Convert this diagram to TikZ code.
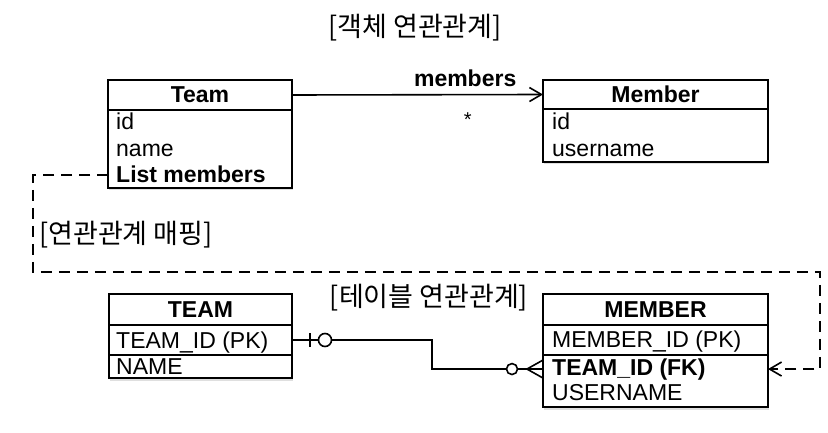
\documentclass[tikz,border=0pt]{standalone}
\usepackage{fontspec}
\setmainfont{Liberation Sans}
\newfontfamily\kr{Noto Sans CJK KR}
\usetikzlibrary{positioning,arrows.meta,shadows,calc}
\tikzset{
  box/.style={draw, line width=1.6pt, fill=white, inner sep=0pt, outer sep=0pt,
    drop shadow={shadow xshift=1pt, shadow yshift=-2.5pt, opacity=0.25}},
  hdr/.style={box, font=\bfseries\fontsize{23}{23}\selectfont},
  txt/.style={anchor=base west, inner sep=0pt, font=\fontsize{23}{23}\selectfont},
  btxt/.style={txt, font=\bfseries\fontsize{23}{23}\selectfont},
  kor/.style={inner sep=0pt, font=\kr\fontsize{27}{27}\selectfont},
  link/.style={line width=1.6pt, -{Straight Barb[length=12pt,width=14pt]}},
  mapping/.style={link, dash pattern=on 11pt off 7pt},
  erline/.style={line width=1.6pt},
}
\begin{document}
\begin{tikzpicture}[x=1pt,y=-1pt]
	\useasboundingbox (0,0) rectangle (828,433);
	% 객체 연관관계
	\node[kor] (objTitle) at (415,28) {[객체 연관관계]};
	\node[hdr, minimum width=184pt, minimum height=30pt] (team) at (200,95) {Team};
	\node[box, minimum width=184pt, minimum height=78pt, below=0pt of team] (teamBody) {};
	\node[txt] (tmId) at (116,130) {id};
	\node[txt] (tmName) at (116,157) {name};
	\node[btxt] (tmList) at (116,183) {List members};
	\node[hdr, minimum width=225pt, minimum height=29pt] (member) at (655.5,94.5) {Member};
	\node[box, minimum width=225pt, minimum height=53pt, below=0pt of member] (memberBody) {};
	\node[txt] (mbId) at (552,130) {id};
	\node[txt] (mbUser) at (552,157) {username};
	\draw[link] (team.east) -- (member.west)
		node[pos=0.69, above=4pt, font=\bfseries\fontsize{23}{23}\selectfont] (lblMembers) {members}
		node[pos=0.70, below=17pt, inner sep=0pt, font=\fontsize{20}{20}\selectfont] (lblMany) {*};
	% 연관관계 매핑
	\coordinate (mapL) at (33,272);
	\coordinate (mapR) at (820,272);
	\node[kor, anchor=west] (mapLabel) at (39,235) {[연관관계 매핑]};
	% 테이블 연관관계
	\node[kor] (tblTitle) at (429,298) {[테이블 연관관계]};
	\node[hdr, minimum width=183pt, minimum height=31pt] (tTeam) at (200.5,309.5) {TEAM};
	\node[box, minimum width=183pt, minimum height=30pt, below=0pt of tTeam] (tTeamPk) {};
	\node[box, minimum width=183pt, minimum height=23pt, below=0pt of tTeamPk] (tTeamName) {};
	\node[txt] (ttId) at (116,348) {TEAM\_ID (PK)};
	\node[txt] (ttName) at (116,374.5) {NAME};
	\node[hdr, minimum width=225pt, minimum height=31pt] (tMember) at (655.5,309.5) {MEMBER};
	\node[box, minimum width=225pt, minimum height=30pt, below=0pt of tMember] (tMemberPk) {};
	\node[box, minimum width=225pt, minimum height=52pt, below=0pt of tMemberPk] (tMemberBody) {};
	\node[txt] (tmPk) at (552,347) {MEMBER\_ID (PK)};
	\node[btxt] (tmFk) at (552,375) {TEAM\_ID (FK)};
	\node[txt] (tmUser) at (552,400) {USERNAME};
	%mapping
	\draw[mapping] (teamBody.west |- tmList.center) -| (mapL) -- (mapR) |- (tMemberBody.east |- tmFk.center);
	%FK
	\coordinate (erBend) at (432,340);
	\coordinate (erEnd) at (tMemberBody.west |- tmFk.center);
	\draw[erline] (tTeamPk.east) -- (erBend) |- (erEnd);
	\draw[erline] ($(tTeamPk.east)+(18,-7)$) -- ++(0,14);
	\draw[erline, fill=white] ($(tTeamPk.east)+(33,0)$) circle (6.5pt);
	\draw[erline] ($(erEnd)+(-16,0)$) -- ($(erEnd)+(0,-9)$);
	\draw[erline] ($(erEnd)+(-16,0)$) -- ($(erEnd)+(0,9)$);
	\draw[erline, fill=white] ($(erEnd)+(-31,0)$) circle (5.5pt);
\end{tikzpicture}
\end{document}
